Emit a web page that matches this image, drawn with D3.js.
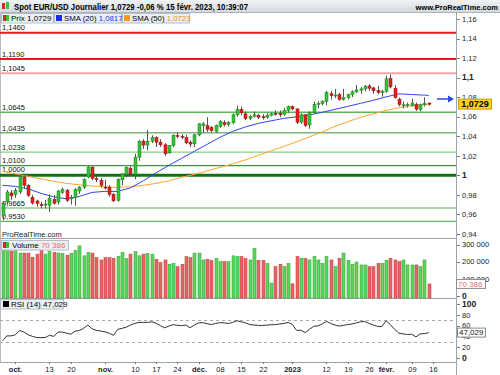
<!DOCTYPE html>
<html>
<head>
<meta charset="utf-8">
<script src="https://cdn.jsdelivr.net/npm/d3@7"></script>
<style>
  body { margin: 0; background: #fff; }
  svg text { font-family: "Liberation Sans", Arial, sans-serif; }
</style>
</head>
<body>
<div id="chart"></div>
<script>
// daily candles EUR/USD, 28 sept. 2022 -> 15 févr. 2023
var opens = [0.959,0.9728,0.982,0.9806,0.983,0.998,0.9898,0.9776,0.9738,0.970,
  0.9700,0.9694,0.9755,0.9728,0.9827,0.9847,0.976,0.9775,0.984,0.988,
  0.9983,1.0085,0.9968,0.995,0.988,0.988,0.9806,0.9745,0.9955,1.001,
  1.0074,1.001,1.0187,1.035,1.031,1.035,1.0385,1.034,1.0313,1.0231,
  1.0306,1.0408,1.040,1.0385,1.034,1.0323,1.0415,1.051,1.051,1.049,
  1.0452,1.0503,1.054,1.052,1.0538,1.062,1.0673,1.063,1.058,1.0605,
  1.0615,1.060,1.0595,1.0615,1.0635,1.0635,1.0625,1.0665,1.0705,1.068,
  1.0545,1.062,1.0515,1.0645,1.0725,1.0735,1.0755,1.0835,1.0815,1.0825,
  1.0778,1.0795,1.0828,1.0855,1.0872,1.0885,1.0915,1.0895,1.0868,1.0848,
  1.086,1.0993,1.089,1.078,1.0712,1.0715,1.0712,1.0725,1.0675,1.0722,1.074];
var highs = [0.9735,0.985,0.985,0.987,0.9999,0.9999,0.991,0.980,0.975,0.973,
  0.975,0.9805,0.980,0.985,0.9875,0.986,0.980,0.987,0.989,0.997,
  1.0093,1.009,0.9995,0.9975,0.9955,0.990,0.982,0.997,1.002,1.009,
  1.009,1.022,1.036,1.037,1.0466,1.041,1.040,1.037,1.033,1.031,
  1.042,1.044,1.042,1.0415,1.036,1.0425,1.0535,1.0545,1.0595,1.0505,
  1.052,1.0565,1.0565,1.0555,1.0635,1.0714,1.0705,1.0655,1.062,1.0655,
  1.063,1.0625,1.0635,1.064,1.0665,1.0665,1.069,1.0715,1.0715,1.0685,
  1.0635,1.0625,1.0655,1.0755,1.076,1.077,1.0865,1.0865,1.0885,1.0845,
  1.0885,1.0835,1.087,1.0925,1.0905,1.0925,1.0935,1.0905,1.0915,1.0875,
  1.102,1.1033,1.0925,1.0795,1.0755,1.0745,1.0785,1.0745,1.0735,1.080,1.0745];
var lows = [0.954,0.970,0.975,0.977,0.981,0.987,0.978,0.970,0.968,0.966,
  0.966,0.9626,0.970,0.970,0.981,0.973,0.970,0.969,0.981,0.986,
  0.997,0.995,0.993,0.9875,0.9855,0.978,0.973,0.973,0.990,0.998,
  0.999,0.996,1.015,1.027,1.0255,1.033,1.029,1.029,1.020,1.022,
  1.029,1.038,1.037,1.032,1.029,1.029,1.040,1.0435,1.0445,1.044,
  1.0435,1.0485,1.050,1.050,1.0525,1.060,1.0615,1.0565,1.0565,1.059,
  1.0575,1.057,1.058,1.0605,1.061,1.0595,1.061,1.064,1.0665,1.0525,
  1.0525,1.0495,1.0476,1.0635,1.0685,1.0715,1.0715,1.0775,1.079,1.0765,
  1.0765,1.0775,1.080,1.084,1.0835,1.086,1.0865,1.0835,1.083,1.0805,
  1.0845,1.089,1.0785,1.0705,1.0685,1.0695,1.0705,1.066,1.0655,1.0705,1.0715];
var closes = [0.971,0.983,0.979,0.9847,0.9983,0.9898,0.9796,0.9717,0.971,0.9698,
  0.9706,0.9766,0.9715,0.984,0.9857,0.9745,0.9776,0.9857,0.988,0.9959,
  1.0085,0.997,0.9965,0.9898,0.9875,0.9806,0.9738,0.996,1.0015,1.008,
  1.001,1.0187,1.035,1.031,1.035,1.0385,1.034,1.0313,1.0221,1.0306,
  1.0408,1.0405,1.039,1.0333,1.032,1.0415,1.0527,1.0527,1.047,1.0457,
  1.051,1.055,1.052,1.054,1.062,1.0673,1.064,1.058,1.0605,1.062,
  1.0595,1.0595,1.0615,1.063,1.0625,1.062,1.0665,1.0705,1.068,1.0544,
  1.062,1.051,1.0645,1.0725,1.0737,1.0755,1.085,1.0815,1.0822,1.0776,
  1.0795,1.0825,1.0855,1.0875,1.0885,1.0912,1.0892,1.0865,1.0848,1.086,
  1.0987,1.0905,1.0795,1.0725,1.0722,1.0728,1.074,1.0678,1.0722,1.0738,1.0729];
var volumes = [275000,275000,262000,275000,250000,250000,250000,226000,244000,268000,
  244000,260000,254000,250000,248000,238000,250000,266000,292000,234000,
  254000,250000,224000,210000,224000,224000,220000,230000,254000,218000,
  244000,258000,234000,244000,248000,244000,214000,195000,210000,185000,
  190000,171000,185000,230000,224000,250000,250000,210000,214000,208000,
  220000,200000,200000,200000,234000,230000,230000,218000,210000,278000,
  208000,208000,190000,75000,171000,185000,171000,190000,71000,230000,
  220000,218000,210000,230000,210000,190000,230000,210000,171000,220000,
  250000,208000,185000,198000,181000,181000,171000,171000,190000,190000,
  208000,220000,210000,200000,210000,181000,181000,181000,171000,210000,70386];
var rsi = [32,41,41,43,51,48,43,40,38,37.6,
  38,42,40,48,48,46,44,49.7,50.9,55,
  61,54,51,50,48.5,46,42,53,55,57,
  61,64,66,66,66,67,64.5,60,56,59,
  61.8,60.5,60,61,56,61,65,65.5,63.5,62,
  64,65.5,65,64,66,69,67,65,62,61,
  60.5,60,61,61.5,61.8,63,64,66,62,51,
  51.5,47,53,58.7,59.5,63,67.8,64,61,59,
  60.5,62,63,65,67,67.5,64,61,58.5,58.2,
  69,62,53,46,44.5,43.6,44,39,44.8,45,47.029];

// moving averages read at every third session
var smaDates = ["2022-09-28","2022-10-03","2022-10-06","2022-10-11","2022-10-14","2022-10-19",
  "2022-10-24","2022-10-27","2022-11-01","2022-11-04","2022-11-09","2022-11-14","2022-11-17",
  "2022-11-22","2022-11-25","2022-11-30","2022-12-05","2022-12-08","2022-12-13","2022-12-16",
  "2022-12-21","2022-12-26","2022-12-29","2023-01-03","2023-01-06","2023-01-11","2023-01-16",
  "2023-01-19","2023-01-24","2023-01-27","2023-02-01","2023-02-06","2023-02-09","2023-02-14","2023-02-15"];
var sma20 = [0.9898,0.9887,0.9862,0.9816,0.978,0.976,0.9785,0.9826,0.9836,0.9836,0.9872,0.9944,
  1.0026,1.0102,1.0174,1.0246,1.0317,1.0389,1.045,1.0496,1.0532,1.0558,1.0583,1.0599,1.0619,
  1.0645,1.0676,1.0706,1.0737,1.0768,1.0803,1.0834,1.0827,1.0821,1.0817];
var sma50 = [1.0041,1.0015,0.999,0.9964,0.9939,0.9918,0.9903,0.9893,0.9882,0.9877,0.9882,0.9898,
  0.9918,0.9944,0.998,1.001,1.0046,1.0082,1.0118,1.0159,1.0205,1.0251,1.0297,1.0343,1.0394,
  1.0445,1.0502,1.0548,1.0594,1.0629,1.0665,1.0691,1.0711,1.0724,1.0723];

var levels = [1.146, 1.119, 1.1045, 1.0645, 1.0435, 1.0238, 1.01, 1.0, 0.9665, 0.953];
var levelColors = ["#e41a1c","#e41a1c","#f6a6a6","#5cb85c","#3c8f3c","#6cc06c","#3f9a3f","#11721a","#acd8ac","#5cb85c"];
var levelWidths = [2, 2, 2, 1.5, 1, 1, 1.2, 3, 2, 1.2];

var tickDates = ["2022-10-03","2022-10-13","2022-10-20","2022-11-01","2022-11-10","2022-11-17","2022-11-24",
  "2022-12-01","2022-12-08","2022-12-15","2022-12-22","2023-01-02","2023-01-12","2023-01-19","2023-01-26",
  "2023-02-01","2023-02-09","2023-02-16"];
var tickLabels = ["oct.","13","20","nov.","10","17","24","déc.","08","15","22","2023","12","19","26","févr.","09","16"];
var tickBold = [1,0,0,1,0,0,0,1,0,0,0,1,0,0,0,1,0,0];

var priceTicks = [0.94,0.96,0.98,1,1.02,1.04,1.06,1.08,1.1,1.12,1.14,1.16];
var volTicks = [0, 100000, 200000, 300000];
var rsiTicks = [0, 20, 40, 60, 80, 100];

var fmtDay = d3.timeFormat("%Y-%m-%d");
var days = d3.timeDay.range(new Date(2022, 8, 28), new Date(2023, 1, 24))
  .filter(function(d){ return d.getDay() % 6 !== 0; })
  .map(fmtDay);

var width = 500, height = 375, axisX = 456;
var green = "#35c435", greenDark = "#17801a", red = "#e3211f", redDark = "#8e1010";

var svg = d3.select("#chart").append("svg")
  .attr("width", width).attr("height", height);

var x = d3.scaleBand().domain(days).range([0.5, axisX + 0.4]);
function cx(d){ return Math.round(x(d) + x.bandwidth() / 2); }

var y = d3.scaleLinear().domain([0.94, 1.16]).range([234, 19]);
var yVol = d3.scaleLinear().domain([0, 300000]).range([296, 244.5]);
var yRsi = d3.scaleLinear().domain([0, 100]).range([358, 304]);

function comma(v, n){ return (n == null ? String(+v.toFixed(2)) : v.toFixed(n)).replace(".", ","); }
function spaced(v){ return d3.format(",")(v).replace(/,/g, " "); }

var candles = closes.map(function(c, i){
  return {date: days[i], o: opens[i], h: highs[i], l: lows[i], c: c, v: volumes[i], rsi: rsi[i]};
});
var last = candles[candles.length - 1];

// header
var grad = svg.append("defs").append("linearGradient").attr("id", "hdr").attr("x2", 0).attr("y2", 1);
grad.append("stop").attr("offset", 0).attr("stop-color", "#f1f3f5");
grad.append("stop").attr("offset", 1).attr("stop-color", "#d3d9de");
svg.append("rect").attr("width", width).attr("height", 12).attr("fill", "url(#hdr)");
svg.append("line").attr("x1", 0).attr("x2", width).attr("y1", 12.5).attr("y2", 12.5).attr("stroke", "#a9b3bb");
svg.append("rect").attr("x", 2).attr("y", 3).attr("width", 3).attr("height", 6).attr("fill", red);
svg.append("rect").attr("x", 6).attr("y", 2).attr("width", 3).attr("height", 7).attr("fill", green);
svg.append("text").attr("x", 14).attr("y", 9.5)
  .attr("font-size", 8.5).attr("font-weight", "bold")
  .attr("textLength", 234).attr("lengthAdjust", "spacingAndGlyphs")
  .text("Spot EUR/USD Journalier 1,0729 -0,06 % 15 févr. 2023, 10:39:07");
svg.append("text").attr("x", 498).attr("y", 9.5).attr("text-anchor", "end")
  .attr("font-size", 7.5).attr("font-weight", "bold")
  .text("www.ProRealTime.com");

// panel frames
svg.append("line").attr("x1", 0.5).attr("x2", 0.5).attr("y1", 12).attr("y2", 362).attr("stroke", "#b7bfc6");
svg.append("line").attr("x1", axisX + 0.5).attr("x2", axisX + 0.5).attr("y1", 12).attr("y2", height).attr("stroke", "#9aa4ad");
[238.5, 298.5, 362.5].forEach(function(yy){
  svg.append("line").attr("x1", 0).attr("x2", axisX).attr("y1", yy).attr("y2", yy).attr("stroke", "#9aa4ad");
});

// main panel
var main = svg.append("g");
main.selectAll(".level").data(levels).enter().append("line")
  .attr("x1", 0).attr("x2", axisX)
  .attr("y1", function(d){ return y(d); }).attr("y2", function(d){ return y(d); })
  .attr("stroke", function(d, i){ return levelColors[i]; })
  .attr("stroke-width", function(d, i){ return levelWidths[i]; });
main.selectAll(".levelLabel").data(levels).enter().append("text")
  .attr("x", 2).attr("y", function(d, i){ return y(d) - levelWidths[i] / 2 - 1.5; })
  .attr("font-size", 7.5).attr("fill", "#111")
  .text(function(d){ return comma(d, 4); });

var smaLine = d3.line()
  .x(function(d){ return x(d.date) + x.bandwidth() / 2; })
  .y(function(d){ return y(d.v); });
main.append("path")
  .datum(smaDates.map(function(d, i){ return {date: d, v: sma50[i]}; }))
  .attr("d", smaLine).attr("fill", "none").attr("stroke", "#ffa42e").attr("stroke-width", 1);
main.append("path")
  .datum(smaDates.map(function(d, i){ return {date: d, v: sma20[i]}; }))
  .attr("d", smaLine).attr("fill", "none").attr("stroke", "#3344f0").attr("stroke-width", 1);

var cg = main.selectAll(".candle").data(candles).enter().append("g");
cg.append("line")
  .attr("x1", function(d){ return cx(d.date) + 0.5; })
  .attr("x2", function(d){ return cx(d.date) + 0.5; })
  .attr("y1", function(d){ return y(d.h); })
  .attr("y2", function(d){ return y(d.l); })
  .attr("stroke", "#555").attr("stroke-width", 1);
cg.append("rect")
  .attr("x", function(d){ return cx(d.date) - 1; })
  .attr("width", 3)
  .attr("y", function(d){ return y(Math.max(d.o, d.c)); })
  .attr("height", function(d){ return Math.max(1, Math.abs(y(d.o) - y(d.c))); })
  .attr("fill", function(d){ return d.c >= d.o ? green : red; })
  .attr("stroke", function(d){ return d.c >= d.o ? greenDark : redDark; })
  .attr("stroke-width", 0.5);

svg.append("text").attr("x", 2).attr("y", 237).attr("font-size", 7.5).attr("fill", "#222")
  .text("ProRealTime.com");

// legend row
function legendBox(x0, w, y0){
  svg.append("rect").attr("x", x0 + 0.5).attr("y", y0 + 0.5).attr("width", w).attr("height", 9.5)
    .attr("fill", "#eceff2").attr("stroke", "#b5bec6");
}
legendBox(1, 52, 13);
svg.append("rect").attr("x", 3).attr("y", 15).attr("width", 3).attr("height", 6).attr("fill", red);
svg.append("rect").attr("x", 6).attr("y", 15).attr("width", 3).attr("height", 6).attr("fill", green);
svg.append("text").attr("x", 11).attr("y", 21).attr("font-size", 8).text("Prix " + comma(last.c, 4));
legendBox(54, 67, 13);
svg.append("rect").attr("x", 56).attr("y", 15).attr("width", 6).attr("height", 6).attr("fill", "#1f2cf0");
svg.append("text").attr("x", 64).attr("y", 21).attr("font-size", 7.8)
  .append("tspan").text("SMA (20) ")
  .append("tspan").attr("fill", "#2233ee").text(comma(sma20[sma20.length - 1], 4));
legendBox(122, 67, 13);
svg.append("rect").attr("x", 124).attr("y", 15).attr("width", 6).attr("height", 6).attr("fill", "#ff9a1a");
svg.append("text").attr("x", 132).attr("y", 21).attr("font-size", 7.8)
  .append("tspan").text("SMA (50) ")
  .append("tspan").attr("fill", "#f0900a").text(comma(sma50[sma50.length - 1], 4));

// price axis
var pa = svg.append("g");
pa.selectAll("line").data(priceTicks).enter().append("line")
  .attr("x1", axisX + 1).attr("x2", axisX + 4)
  .attr("y1", function(d){ return Math.round(y(d)) + 0.5; })
  .attr("y2", function(d){ return Math.round(y(d)) + 0.5; })
  .attr("stroke", "#777");
pa.selectAll("text").data(priceTicks).enter().append("text")
  .attr("x", axisX + 6).attr("y", function(d){ return y(d) + 2.7; })
  .attr("font-size", function(d){ return Math.abs(d * 10 - Math.round(d * 10)) < 1e-6 ? 8.5 : 7.5; })
  .attr("font-weight", function(d){ return Math.abs(d * 10 - Math.round(d * 10)) < 1e-6 ? "bold" : "normal"; })
  .attr("fill", "#222")
  .text(function(d){ return comma(d); });

// arrow and last price
svg.append("line").attr("x1", 437).attr("x2", 449).attr("y1", 99).attr("y2", 99)
  .attr("stroke", "#2a48e0").attr("stroke-width", 1.5);
svg.append("path").attr("d", "M448,95.5L454,99L448,102.5Z").attr("fill", "#2a48e0");
svg.append("rect").attr("x", 458.5).attr("y", y(last.c) - 5).attr("width", 33).attr("height", 10)
  .attr("fill", "#ffd31a").attr("stroke", "#c9a000");
svg.append("text").attr("x", 475).attr("y", y(last.c) + 3.3).attr("text-anchor", "middle")
  .attr("font-size", 9).attr("font-weight", "bold").text(comma(last.c, 4));

// volume panel
svg.selectAll(".vol").data(candles).enter().append("rect")
  .attr("x", function(d){ return cx(d.date) - 1; })
  .attr("width", 3)
  .attr("y", function(d){ return yVol(d.v); })
  .attr("height", function(d){ return 298 - yVol(d.v); })
  .attr("fill", function(d){ return d.c >= d.o ? "#5fd35f" : "#e46767"; })
  .attr("stroke", function(d){ return d.c >= d.o ? "#2fa02f" : "#c43838"; })
  .attr("stroke-width", 0.5);
legendBox(1, 67, 240);
svg.append("rect").attr("x", 3).attr("y", 242).attr("width", 3).attr("height", 6).attr("fill", red);
svg.append("rect").attr("x", 6).attr("y", 242).attr("width", 3).attr("height", 6).attr("fill", green);
svg.append("text").attr("x", 12).attr("y", 248).attr("font-size", 8)
  .append("tspan").text("Volume ")
  .append("tspan").attr("fill", "#e86a6a").text(spaced(last.v));

var va = svg.append("g");
va.selectAll("line").data(volTicks).enter().append("line")
  .attr("x1", axisX + 1).attr("x2", axisX + 4)
  .attr("y1", function(d){ return Math.round(yVol(d)) + 0.5; })
  .attr("y2", function(d){ return Math.round(yVol(d)) + 0.5; })
  .attr("stroke", "#777");
va.selectAll("text").data(volTicks).enter().append("text")
  .attr("x", axisX + 6).attr("y", function(d){ return yVol(d) + 2.7; })
  .attr("font-size", function(d){ return d === 0 ? 8.5 : 7.5; })
  .attr("font-weight", function(d){ return d === 0 ? "bold" : "normal"; })
  .attr("fill", "#222")
  .text(function(d){ return spaced(d); });
svg.append("rect").attr("x", 456.5).attr("y", yVol(last.v) - 4.5).attr("width", 29).attr("height", 9)
  .attr("fill", "#fff").attr("stroke", "#8a8a8a");
svg.append("text").attr("x", 458).attr("y", yVol(last.v) + 2.8).attr("font-size", 8)
  .attr("fill", "#ee7070").text(spaced(last.v));

// RSI panel
[70, 30].forEach(function(v){
  svg.append("line").attr("x1", 0).attr("x2", axisX)
    .attr("y1", Math.round(yRsi(v)) + 0.5).attr("y2", Math.round(yRsi(v)) + 0.5)
    .attr("stroke", "#aaa").attr("stroke-dasharray", "3,3");
});
svg.append("path").datum(candles)
  .attr("d", d3.line()
    .x(function(d){ return x(d.date) + x.bandwidth() / 2; })
    .y(function(d){ return yRsi(d.rsi); }))
  .attr("fill", "none").attr("stroke", "#333").attr("stroke-width", 1);
legendBox(0, 63, 299);
svg.append("rect").attr("x", 3).attr("y", 301).attr("width", 6).attr("height", 6).attr("fill", "#000");
svg.append("text").attr("x", 11).attr("y", 307).attr("font-size", 8)
  .text("RSI (14) " + comma(last.rsi, 3));

var ra = svg.append("g");
ra.selectAll("line").data(rsiTicks).enter().append("line")
  .attr("x1", axisX + 1).attr("x2", axisX + 4)
  .attr("y1", function(d){ return Math.round(yRsi(d)) + 0.5; })
  .attr("y2", function(d){ return Math.round(yRsi(d)) + 0.5; })
  .attr("stroke", "#777");
ra.selectAll("text").data(rsiTicks).enter().append("text")
  .attr("x", axisX + 6).attr("y", function(d){ return yRsi(d) + 2.7; })
  .attr("font-size", function(d){ return d === 0 || d === 100 ? 8.5 : 7.5; })
  .attr("font-weight", function(d){ return d === 0 || d === 100 ? "bold" : "normal"; })
  .attr("fill", "#222")
  .text(function(d){ return d; });
svg.append("rect").attr("x", 457.5).attr("y", yRsi(last.rsi) - 4.5).attr("width", 28).attr("height", 9)
  .attr("fill", "#fff").attr("stroke", "#8a8a8a");
svg.append("text").attr("x", 459).attr("y", yRsi(last.rsi) + 2.8).attr("font-size", 8)
  .attr("fill", "#111").text(comma(last.rsi, 3));

// date axis
var xa = svg.append("g");
xa.selectAll("line").data(tickDates).enter().append("line")
  .attr("x1", function(d){ return cx(d) + 0.5; })
  .attr("x2", function(d){ return cx(d) + 0.5; })
  .attr("y1", 362).attr("y2", 364)
  .attr("stroke", "#777");
xa.selectAll("text").data(tickDates).enter().append("text")
  .attr("x", function(d){ return cx(d) + 0.5; })
  .attr("y", 371.5)
  .attr("text-anchor", "middle")
  .attr("font-size", 7.5)
  .attr("font-weight", function(d, i){ return tickBold[i] ? "bold" : "normal"; })
  .attr("fill", "#222")
  .text(function(d, i){ return tickLabels[i]; });
</script>
</body>
</html>
